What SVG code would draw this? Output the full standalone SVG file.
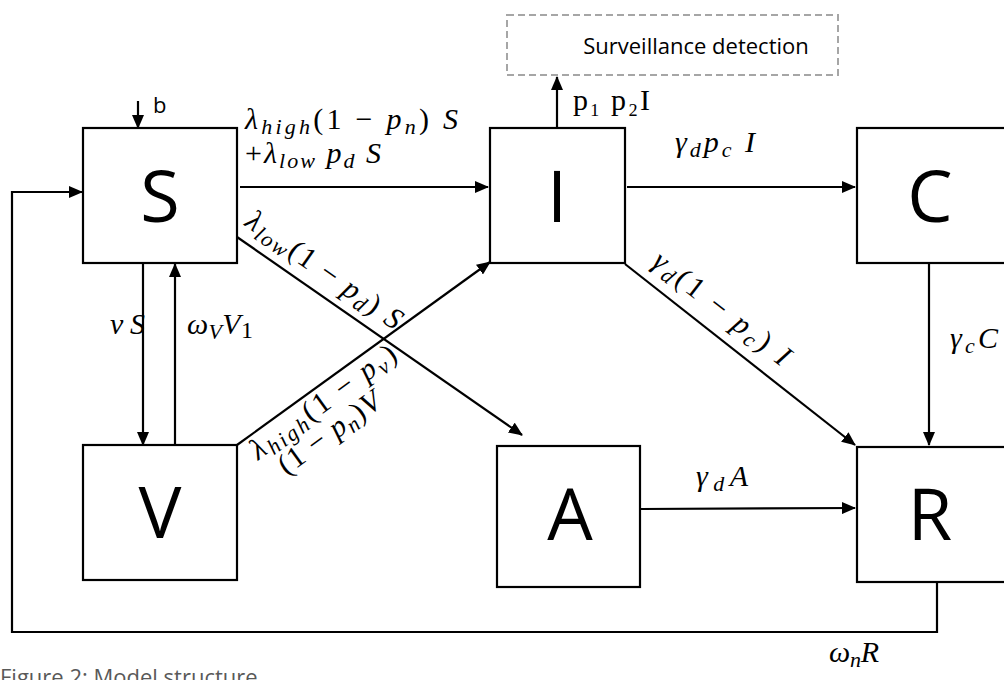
<svg xmlns="http://www.w3.org/2000/svg" width="1004" height="680" viewBox="0 0 1004 680">
<defs>
<marker id="ah" markerWidth="14" markerHeight="12" refX="13" refY="6" orient="auto" markerUnits="userSpaceOnUse">
<path d="M0,0 L14,6 L0,12 Z" fill="#000"/>
</marker>
<style>
.box{fill:#fff;stroke:#000;stroke-width:2.2}
.big{font-family:"Open Sans","Liberation Sans",sans-serif;font-size:72px;fill:#000;text-anchor:middle}
.arr{stroke:#000;stroke-width:2.2;fill:none;marker-end:url(#ah)}
.m{font-family:"Liberation Serif","DejaVu Serif",serif;font-size:30px;fill:#000}
.i{font-style:italic}
.sub{font-size:22px;font-style:italic}
.sans{font-family:"Open Sans","Liberation Sans",sans-serif;fill:#000}
</style>
</defs>
<rect width="1004" height="680" fill="#fff"/>

<g id="connectors">
<line class="arr" x1="138" y1="101" x2="138" y2="128"/>
<polyline class="arr" points="937,582 937,632 12,632 12,192 82,192"/>
<line class="arr" x1="240" y1="187" x2="488" y2="187"/>
<line class="arr" x1="557" y1="128" x2="557" y2="77"/>
<line class="arr" x1="627" y1="187" x2="855" y2="187"/>
<line class="arr" x1="929" y1="263" x2="929" y2="445"/>
<line class="arr" x1="625" y1="264" x2="855" y2="445"/>
<line class="arr" x1="237" y1="237" x2="522" y2="435"/>
<line class="arr" x1="237" y1="445" x2="490" y2="262"/>
<line class="arr" x1="143" y1="263" x2="143" y2="445"/>
<line class="arr" x1="175" y1="445" x2="175" y2="264"/>
<line class="arr" x1="640" y1="509" x2="855" y2="508"/>
</g>

<g id="node-surveillance">
<rect x="507" y="15" width="331" height="60" fill="#fff" stroke="#a6a6a6" stroke-width="2" stroke-dasharray="7 4"/>
<text class="sans" x="696" y="54" font-size="22" text-anchor="middle">Surveillance detection</text>
</g>
<g id="node-S"><rect class="box" x="83" y="128" width="154" height="135"/><text class="big" x="160" y="222">S</text></g>
<g id="node-I"><rect class="box" x="490" y="128" width="135" height="135"/><text class="big" x="557" y="222">I</text></g>
<g id="node-C"><rect class="box" x="857" y="128" width="160" height="135"/><text class="big" x="930" y="222">C</text></g>
<g id="node-V"><rect class="box" x="83" y="445" width="154" height="135"/><text class="big" x="160" y="538">V</text></g>
<g id="node-A"><rect class="box" x="497" y="446" width="143" height="141"/><text class="big" x="570" y="540">A</text></g>
<g id="node-R"><rect class="box" x="857" y="447" width="160" height="135"/><text class="big" x="930" y="540">R</text></g>

<g id="labels">
<text class="sans" x="153" y="113" font-size="22">b</text>
<text class="m" x="245" y="129" textLength="213" lengthAdjust="spacing"><tspan class="i">λ</tspan><tspan class="sub" dy="5">high</tspan><tspan dy="-5">(1 − </tspan><tspan class="i">p</tspan><tspan class="sub" dy="5">n</tspan><tspan dy="-5">) </tspan><tspan class="i">S</tspan></text>
<text class="m" x="245" y="163" textLength="136" lengthAdjust="spacing">+<tspan class="i">λ</tspan><tspan class="sub" dy="5">low</tspan><tspan dy="-5"> </tspan><tspan class="i">p</tspan><tspan class="sub" dy="5">d</tspan><tspan dy="-5"> </tspan><tspan class="i">S</tspan></text>
<text class="m" x="573" y="110" font-size="26" textLength="77" lengthAdjust="spacing">p₁ p₂I</text>
<text class="m" x="675" y="152" textLength="80" lengthAdjust="spacing"><tspan class="i">γ</tspan><tspan class="sub" dy="5">d</tspan><tspan class="i" dy="-5">p</tspan><tspan class="sub" dy="5">c</tspan><tspan class="i" dy="-5"> I</tspan></text>
<text class="m" x="950" y="348" textLength="48" lengthAdjust="spacing"><tspan class="i">γ</tspan><tspan class="sub" dy="5">c</tspan><tspan class="i" dy="-5">C</tspan></text>
<text class="m" x="110" y="334" textLength="35" lengthAdjust="spacing"><tspan class="i">νS</tspan></text>
<text class="m" x="187" y="334" textLength="66" lengthAdjust="spacing"><tspan class="i">ω</tspan><tspan class="sub" dy="5">V</tspan><tspan class="i" dy="-5">V</tspan><tspan dy="4" font-size="24">1</tspan></text>
<text class="m" x="696" y="486" textLength="52" lengthAdjust="spacing"><tspan class="i">γ</tspan><tspan class="sub" dy="5">d</tspan><tspan class="i" dy="-5">A</tspan></text>
<text class="m" x="829" y="662" textLength="50" lengthAdjust="spacing"><tspan class="i">ω</tspan><tspan class="sub" dy="5">n</tspan><tspan class="i" dy="-5">R</tspan></text>
<text class="m" transform="translate(240,230) rotate(35)" y="-6" textLength="184" lengthAdjust="spacing"><tspan class="i">λ</tspan><tspan class="sub" dy="5">low</tspan><tspan dy="-5">(1 − </tspan><tspan class="i">p</tspan><tspan class="sub" dy="5">d</tspan><tspan dy="-5">) </tspan><tspan class="i">S</tspan></text>
<text class="m" transform="translate(648,268) rotate(38)" y="-4" textLength="166" lengthAdjust="spacing"><tspan class="i">γ</tspan><tspan class="sub" dy="5">d</tspan><tspan dy="-5">(1 − </tspan><tspan class="i">p</tspan><tspan class="sub" dy="5">c</tspan><tspan dy="-5">) </tspan><tspan class="i">I</tspan></text>
<g transform="translate(237,445) rotate(-36)">
<text class="m" x="8" y="25" textLength="174" lengthAdjust="spacing"><tspan class="i">λ</tspan><tspan class="sub" dy="5">high</tspan><tspan dy="-5">(1 − </tspan><tspan class="i">p</tspan><tspan class="sub" dy="5">v</tspan><tspan dy="-5">)</tspan></text>
<text class="m" x="22" y="54" textLength="120" lengthAdjust="spacing">(1 − <tspan class="i">p</tspan><tspan class="sub" dy="5">n</tspan><tspan dy="-5">)</tspan><tspan class="i">V</tspan></text>
</g>
<text class="sans" x="0" y="685" font-size="22" style="fill:#595959">Figure 2: Model structure</text>
</g>
</svg>
